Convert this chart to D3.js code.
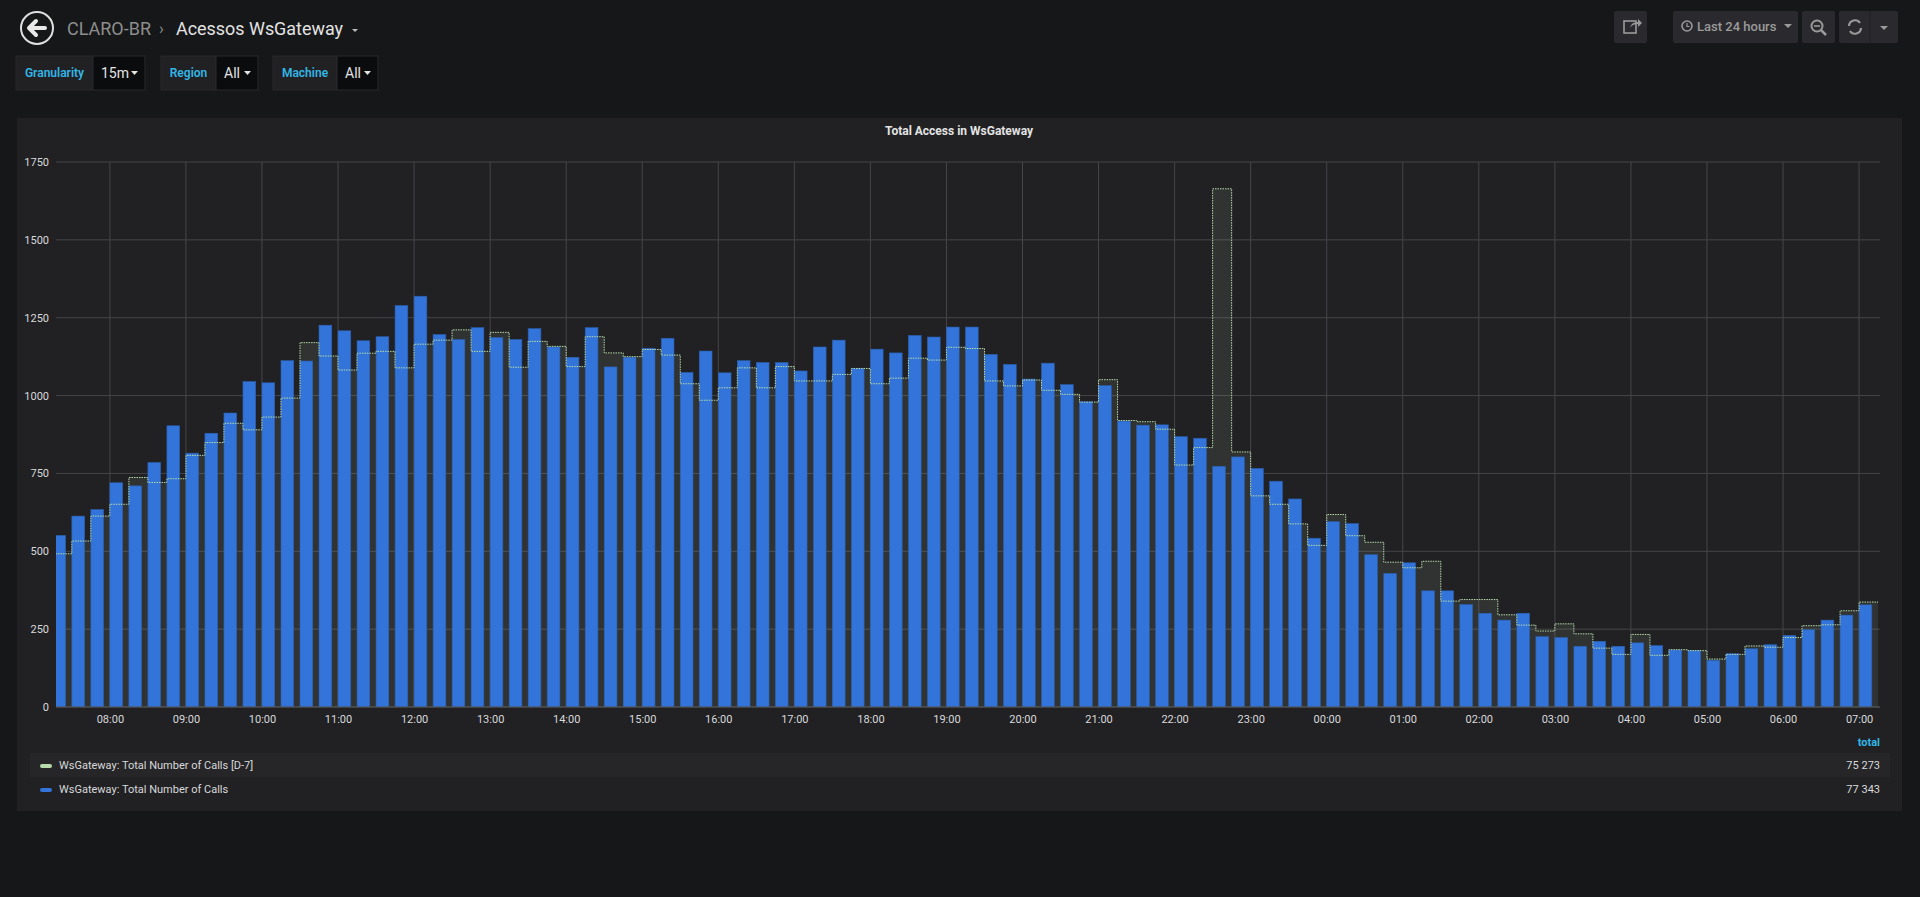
<!DOCTYPE html>
<html lang="en">
<head>
<meta charset="UTF-8">
<title>Acessos WsGateway</title>
<script src="https://d3js.org/d3.v7.min.js"></script>
<style>
  html, body { margin: 0; padding: 0; background: #161719; overflow: hidden; }
  svg { display: block; font-family: Roboto, "Noto Sans", sans-serif; }
</style>
</head>
<body>
<script>
// 15 min samples, first at 07:15, last at 07:00 next day
const startTime = new Date(2020, 0, 1, 7, 15);
const stepMin = 15;

const current = [
  551, 613, 634, 720, 710, 785, 903, 815, 879, 944, 1045, 1041, 1112, 1111, 1226, 1208,
  1176, 1189, 1289, 1319, 1196, 1180, 1218, 1186, 1180, 1215, 1156, 1123, 1218, 1092,
  1123, 1152, 1184, 1074, 1143, 1073, 1112, 1106, 1106, 1079, 1156, 1178, 1087, 1149,
  1137, 1193, 1188, 1220, 1220, 1132, 1100, 1053, 1104, 1035, 980, 1032, 918, 905,
  906, 868, 863, 773, 803, 766, 725, 668, 542, 595, 589, 489, 429, 463, 373, 373,
  329, 301, 279, 301, 226, 223, 195, 211, 195, 206, 197, 183, 182, 150, 171, 187,
  200, 230, 248, 279, 295, 328
];
const lastWeek = [
  492, 533, 613, 651, 737, 721, 733, 808, 849, 911, 890, 931, 992, 1170, 1127, 1082,
  1136, 1142, 1089, 1165, 1178, 1211, 1142, 1203, 1091, 1174, 1158, 1093, 1189, 1137,
  1125, 1148, 1130, 1038, 985, 1025, 1089, 1025, 1093, 1047, 1047, 1068, 1087, 1038,
  1056, 1120, 1114, 1155, 1151, 1047, 1031, 1050, 1017, 1004, 979, 1051, 920, 916,
  892, 777, 833, 1664, 819, 678, 651, 588, 519, 618, 550, 529, 465, 447, 468, 340,
  345, 345, 296, 263, 244, 267, 235, 189, 169, 233, 166, 184, 181, 154, 169, 196,
  192, 223, 261, 264, 309, 337
];
const yTicks = [0, 250, 500, 750, 1000, 1250, 1500, 1750];
const seriesNames = ["WsGateway: Total Number of Calls [D-7]", "WsGateway: Total Number of Calls"];
const seriesTotals = ["75 273", "77 343"];
const seriesColors = ["#b7dbab", "#3274d9"];

const W = 1920, H = 897;
const svg = d3.select("body").append("svg").attr("width", W).attr("height", H);

// ---- header ----
const hdr = svg.append("g");
hdr.append("circle").attr("cx", 37).attr("cy", 28).attr("r", 16)
  .attr("fill", "none").attr("stroke", "#e0e0e0").attr("stroke-width", 2);
hdr.append("path").attr("d", "M29,28 L36,21 M29,28 L36,35 M29,28 L45,28")
  .attr("stroke", "#e8e8e8").attr("stroke-width", 4).attr("fill", "none").attr("stroke-linecap", "round");
hdr.append("text").attr("x", 67).attr("y", 35).attr("font-size", 19).attr("fill", "#8e8e8e")
  .attr("textLength", 84).attr("lengthAdjust", "spacingAndGlyphs").text("CLARO-BR");
hdr.append("text").attr("x", 159).attr("y", 34).attr("font-size", 16).attr("fill", "#8e8e8e").text("›");
hdr.append("text").attr("x", 176).attr("y", 35).attr("font-size", 19).attr("fill", "#e3e3e3")
  .attr("textLength", 167).attr("lengthAdjust", "spacingAndGlyphs").text("Acessos WsGateway");
hdr.append("path").attr("d", "M352,29 l6,0 l-3,3 z").attr("fill", "#bbb");

const pills = [
  { x: 16, lw: 77, vw: 52, label: "Granularity", value: "15m" },
  { x: 161, lw: 55, vw: 42, label: "Region", value: "All" },
  { x: 273, lw: 64, vw: 41, label: "Machine", value: "All" }
];
pills.forEach(p => {
  hdr.append("rect").attr("x", p.x).attr("y", 56).attr("width", p.lw).attr("height", 34)
    .attr("fill", "#212124").attr("stroke", "#29292c");
  hdr.append("rect").attr("x", p.x + p.lw).attr("y", 56).attr("width", p.vw).attr("height", 34)
    .attr("fill", "#0b0c0e").attr("stroke", "#29292c");
  hdr.append("text").attr("x", p.x + p.lw / 2).attr("y", 77).attr("text-anchor", "middle")
    .attr("font-size", 12).attr("font-weight", 600).attr("fill", "#33b5e5").text(p.label);
  hdr.append("text").attr("x", p.x + p.lw + 8).attr("y", 78)
    .attr("font-size", 14).attr("fill", "#e3e3e3").text(p.value);
  const ax = p.x + p.lw + p.vw - 14;
  hdr.append("path").attr("d", `M${ax},71 l7,0 l-3.5,4 z`).attr("fill", "#e3e3e3");
});

// right buttons
const btns = [[1614, 33], [1673, 125], [1802, 33], [1839, 59]];
btns.forEach(b => hdr.append("rect").attr("x", b[0]).attr("y", 11).attr("width", b[1]).attr("height", 32)
  .attr("rx", 2).attr("fill", "#2a2a2e"));
hdr.append("line").attr("x1", 1870).attr("x2", 1870).attr("y1", 11).attr("y2", 43).attr("stroke", "#1e1e21");
hdr.append("rect").attr("x", 1624).attr("y", 21).attr("width", 12).attr("height", 12).attr("fill", "none").attr("stroke", "#9a9a9a").attr("stroke-width", 1.6);
hdr.append("path").attr("d", "M1630,28 q1,-6 8,-6 l0,-3 l4,4 l-4,4 l0,-3 q-6,0 -8,4").attr("fill", "#9a9a9a");
hdr.append("circle").attr("cx", 1687).attr("cy", 26).attr("r", 5).attr("fill", "none").attr("stroke", "#9a9a9a").attr("stroke-width", 1.6);
hdr.append("path").attr("d", "M1687,23 l0,3.5 l2.5,0").attr("fill", "none").attr("stroke", "#9a9a9a").attr("stroke-width", 1.2);
hdr.append("text").attr("x", 1697).attr("y", 31).attr("font-size", 13).attr("font-weight", 500).attr("fill", "#9a9a9a").text("Last 24 hours");
hdr.append("path").attr("d", "M1784,24 l8,0 l-4,4 z").attr("fill", "#9a9a9a");
hdr.append("circle").attr("cx", 1817).attr("cy", 26).attr("r", 5.5).attr("fill", "none").attr("stroke", "#9a9a9a").attr("stroke-width", 2);
hdr.append("line").attr("x1", 1821).attr("y1", 30).attr("x2", 1826).attr("y2", 35).attr("stroke", "#9a9a9a").attr("stroke-width", 2.5);
hdr.append("line").attr("x1", 1814).attr("y1", 26).attr("x2", 1820).attr("y2", 26).attr("stroke", "#9a9a9a").attr("stroke-width", 1.6);
hdr.append("path").attr("d", "M1849,26 a6,6 0 0 1 11,-3 M1861,28 a6,6 0 0 1 -11,3")
  .attr("fill", "none").attr("stroke", "#9a9a9a").attr("stroke-width", 2.2);
hdr.append("path").attr("d", "M1880,26 l8,0 l-4,4 z").attr("fill", "#9a9a9a");

// ---- panel ----
svg.append("rect").attr("x", 17).attr("y", 118).attr("width", 1885).attr("height", 693).attr("fill", "#212124");
svg.append("text").attr("x", 959).attr("y", 135).attr("text-anchor", "middle")
  .attr("font-size", 12).attr("font-weight", 700).attr("fill", "#e3e3e3").text("Total Access in WsGateway");

const m = { left: 56, right: 1880, top: 162, bottom: 707 };
const times = current.map((d, i) => d3.timeMinute.offset(startTime, i * stepMin));
const x = d3.scaleTime()
  .domain([new Date(2020, 0, 1, 7, 17, 30), new Date(2020, 0, 2, 7, 16, 30)])
  .range([m.left, m.right]);
const y = d3.scaleLinear().domain([0, 1750]).range([m.bottom, m.top]);

const plot = svg.append("g");
plot.append("defs").append("clipPath").attr("id", "clip")
  .append("rect").attr("x", m.left).attr("y", m.top - 5).attr("width", m.right - m.left).attr("height", m.bottom - m.top + 5);

// grid
const hourTicks = d3.timeHour.range(new Date(2020, 0, 1, 8), new Date(2020, 0, 2, 7, 1));
plot.append("g").selectAll("line").data(yTicks).join("line")
  .attr("x1", m.left).attr("x2", m.right).attr("y1", d => y(d)).attr("y2", d => y(d))
  .attr("stroke", "#464649").attr("stroke-width", 1);
plot.append("g").selectAll("line").data(hourTicks).join("line")
  .attr("x1", d => x(d)).attr("x2", d => x(d)).attr("y1", m.top).attr("y2", m.bottom)
  .attr("stroke", "#464649").attr("stroke-width", 1);

const g = plot.append("g").attr("clip-path", "url(#clip)");
const slot = x(times[1]) - x(times[0]);

// D-7 step area
const wk = lastWeek.map((v, i) => ({ t: times[i], v }));
wk.push({ t: d3.timeMinute.offset(times[times.length - 1], stepMin), v: lastWeek[lastWeek.length - 1] });
g.append("path").datum(wk)
  .attr("d", d3.area().curve(d3.curveStepAfter).x(d => x(d.t)).y0(y(0)).y1(d => y(d.v)))
  .attr("fill", "#b7dbab").attr("fill-opacity", 0.1);

// current bars
g.append("g").selectAll("rect").data(current).join("rect")
  .attr("x", (d, i) => x(times[i])).attr("width", slot * 0.67)
  .attr("y", d => y(d)).attr("height", d => y(0) - y(d))
  .attr("fill", "#3274d9").attr("stroke", "#2b5fae").attr("stroke-width", 0.6);

g.append("path").datum(wk)
  .attr("d", d3.line().curve(d3.curveStepAfter).x(d => x(d.t)).y(d => y(d.v)))
  .attr("fill", "none").attr("stroke", "#b7dbab").attr("stroke-width", 1).attr("stroke-dasharray", "1.5,1");

// axes
const yAxis = plot.append("g").attr("transform", `translate(${m.left},0)`)
  .call(d3.axisLeft(y).tickValues(yTicks).tickFormat(d3.format("d")).tickSize(0).tickPadding(7));
const xAxis = plot.append("g").attr("transform", `translate(0,${m.bottom})`)
  .call(d3.axisBottom(x).tickValues(hourTicks).tickFormat(d3.timeFormat("%H:%M")).tickSize(0).tickPadding(8));
[yAxis, xAxis].forEach(a => {
  a.select(".domain").remove();
  a.selectAll("text").attr("fill", "#d8d9da").attr("font-size", 11).attr("font-family", "Roboto, sans-serif");
});
plot.append("line").attr("x1", m.left).attr("x2", m.right).attr("y1", m.bottom).attr("y2", m.bottom)
  .attr("stroke", "#555");

// legend
svg.append("text").attr("x", 1880).attr("y", 746).attr("text-anchor", "end")
  .attr("font-size", 11).attr("font-weight", 700).attr("fill", "#33b5e5").text("total");
const leg = svg.append("g").selectAll("g").data(seriesNames).join("g")
  .attr("transform", (d, i) => `translate(0,${765 + i * 24})`);
leg.append("rect").attr("x", 30).attr("y", -12).attr("width", 1860).attr("height", 24)
  .attr("fill", (d, i) => i === 0 ? "#262628" : "none");
leg.append("rect").attr("x", 40).attr("y", -1).attr("width", 12).attr("height", 4).attr("rx", 2)
  .attr("fill", (d, i) => seriesColors[i]);
leg.append("text").attr("x", 59).attr("y", 4).attr("font-size", 11).attr("fill", "#d8d9da").text(d => d);
leg.append("text").attr("x", 1880).attr("y", 4).attr("text-anchor", "end")
  .attr("font-size", 11).attr("fill", "#d8d9da").text((d, i) => seriesTotals[i]);
</script>
</body>
</html>
